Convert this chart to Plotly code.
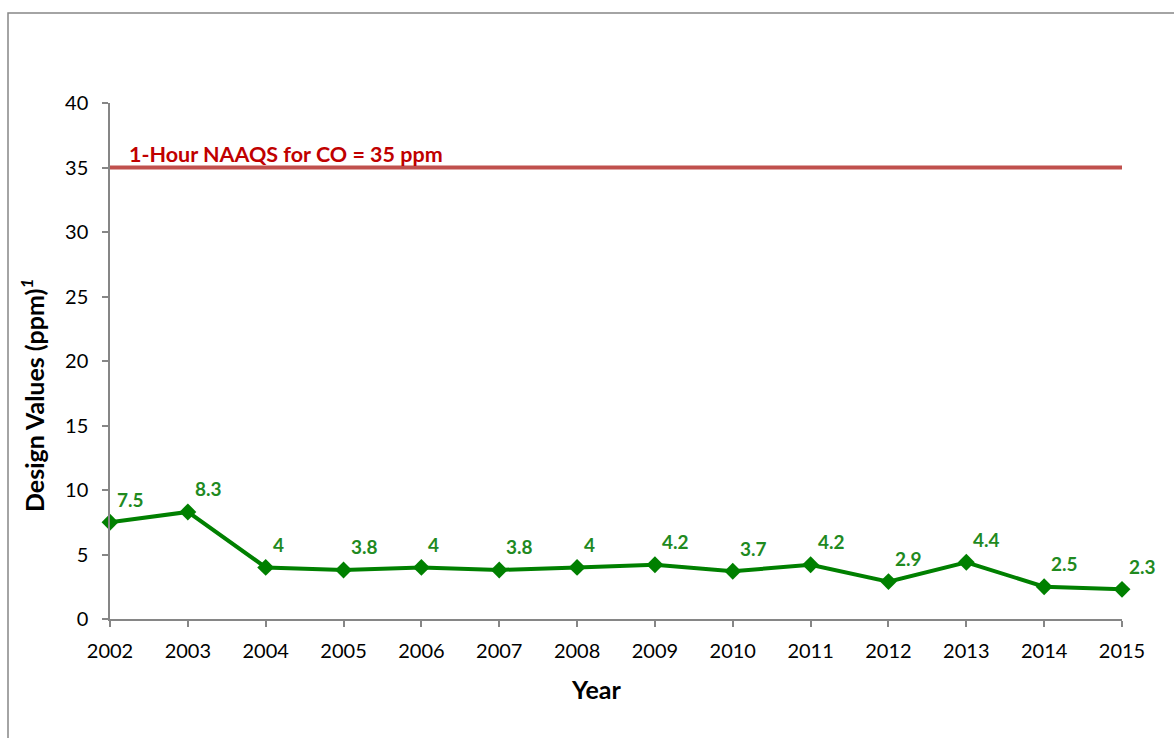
import plotly.graph_objects as go

years = [2002, 2003, 2004, 2005, 2006, 2007, 2008, 2009, 2010, 2011, 2012, 2013, 2014, 2015]
values = [7.5, 8.3, 4, 3.8, 4, 3.8, 4, 4.2, 3.7, 4.2, 2.9, 4.4, 2.5, 2.3]
labels = ["7.5", "8.3", "4", "3.8", "4", "3.8", "4", "4.2", "3.7", "4.2", "2.9", "4.4", "2.5", "2.3"]
naaqs = 35
naaqs_label = "1-Hour NAAQS for CO = 35 ppm"
y_ticks = [0, 5, 10, 15, 20, 25, 30, 35, 40]

FONT = "Lato, 'Open Sans', sans-serif"
GREEN = "#008000"
LABEL_GREEN = "#1f8a1f"
RED = "#C0504D"
AXIS = "#868686"

fig = go.Figure()

fig.add_trace(go.Scatter(
    x=[years[0], years[-1]], y=[naaqs, naaqs], mode="lines",
    line=dict(color=RED, width=4), showlegend=False, hoverinfo="skip",
    cliponaxis=False))

fig.add_trace(go.Scatter(
    x=years, y=values, mode="lines+markers",
    line=dict(color=GREEN, width=4),
    marker=dict(symbol="diamond", size=13, color=GREEN),
    showlegend=False, cliponaxis=False))

for x, y, t in zip(years, values, labels):
    fig.add_annotation(x=x, y=y, text=t, showarrow=False, xanchor="left", yanchor="middle",
                       xshift=5, yshift=23,
                       font=dict(family=FONT, size=19, color=LABEL_GREEN, weight="bold"))

fig.add_annotation(x=years[0], y=naaqs, text=naaqs_label, showarrow=False,
                   xanchor="left", yanchor="middle", xshift=17, yshift=14,
                   font=dict(family=FONT, size=21.5, color="#C00000", weight="bold"))

fig.add_annotation(xref="paper", yref="paper", x=(32 - 110) / 1012, y=(619 - 395) / 516,
                   text="Design Values (ppm)<sup><i>1</i></sup>", textangle=-90, showarrow=False,
                   xanchor="center", yanchor="middle",
                   font=dict(family=FONT, size=25, color="#000000", weight="bold"))
fig.add_annotation(xref="paper", yref="paper", x=(596 - 110) / 1012, y=(619 - 689) / 516,
                   text="Year", showarrow=False, xanchor="center", yanchor="middle",
                   font=dict(family=FONT, size=25, color="#000000", weight="bold"))

# outer chart frame
fig.add_shape(type="rect", xref="paper", yref="paper",
              x0=(8 - 110) / 1012, x1=(1200 - 110) / 1012,
              y0=(619 - 760) / 516, y1=(619 - 13) / 516,
              line=dict(color="#878787", width=1.5), layer="below")

fig.update_layout(
    width=1174, height=738,
    margin=dict(l=110, r=52, t=103, b=119),
    paper_bgcolor="white", plot_bgcolor="white",
    font=dict(family=FONT, size=20, color="#000000"),
    xaxis=dict(range=[years[0], years[-1]], tickmode="array", tickvals=years,
               ticktext=[str(y) for y in years], showgrid=False, zeroline=False,
               showline=True, linecolor=AXIS, linewidth=1.5,
               ticks="outside", ticklen=6, tickcolor=AXIS, tickwidth=1.5,
               ticklabelstandoff=7),
    yaxis=dict(range=[0, 40], tickmode="array", tickvals=y_ticks, showgrid=False, zeroline=False,
               showline=True, linecolor=AXIS, linewidth=1.5,
               ticks="outside", ticklen=6, tickcolor=AXIS, tickwidth=1.5,
               ticklabelstandoff=10),
)

fig.write_html("out.html")
